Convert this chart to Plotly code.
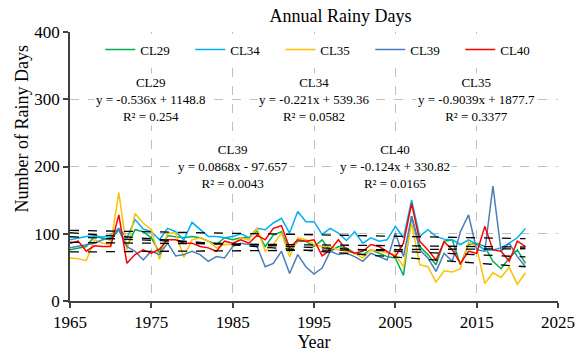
import plotly.graph_objects as go

years = list(range(1965, 2022))

cl29 = [76, 79, 81, 96, 94, 91, 106, 81, 106, 103, 94,
        72, 97, 96, 94, 96, 94, 89, 84, 94, 91, 94, 94,
        104, 81, 98, 103, 74, 89, 89, 81, 91, 74, 81, 79,
        71, 69, 76, 71, 66, 64, 38, 126, 81, 69, 54,
        89, 91, 54, 84, 86, 81, 59, 48, 64, 76, 56]
cl34 = [91, 94, 96, 97, 95, 98, 108, 94, 121, 107, 103,
        91, 108, 103, 91, 117, 106, 96, 96, 94, 96, 100, 94,
        108, 106, 116, 123, 101, 133, 118, 118, 99, 108, 101, 90,
        103, 86, 94, 89, 91, 111, 94, 150, 96, 106, 96,
        92, 91, 84, 91, 84, 76, 76, 79, 86, 94, 108]
cl35 = [64, 63, 60, 91, 86, 84, 161, 76, 130, 116, 106,
        62, 101, 101, 65, 91, 94, 89, 79, 84, 84, 94, 91,
        108, 74, 84, 101, 66, 94, 91, 84, 81, 81, 76, 74,
        71, 64, 76, 74, 71, 69, 51, 116, 54, 51, 28,
        45, 43, 48, 88, 80, 26, 42, 35, 50, 25, 42]
cl39 = [79, 81, 84, 86, 91, 94, 106, 81, 74, 61, 74,
        69, 86, 67, 69, 74, 69, 59, 66, 64, 81, 86, 84,
        81, 51, 56, 74, 41, 69, 51, 40, 49, 74, 69, 71,
        66, 59, 71, 66, 61, 101, 66, 126, 76, 64, 44,
        71, 59, 103, 128, 76, 74, 171, 74, 86, 66, 51]
cl40 = [86, 89, 74, 82, 81, 81, 128, 56, 69, 76, 71,
        77, 91, 91, 86, 86, 81, 79, 74, 89, 86, 91, 86,
        98, 91, 108, 112, 79, 91, 89, 91, 67, 76, 91, 76,
        71, 74, 84, 81, 74, 66, 86, 145, 89, 76, 61,
        88, 76, 56, 74, 71, 111, 76, 74, 59, 89, 81]

names = ["CL29", "CL34", "CL35", "CL39", "CL40"]
series = [cl29, cl34, cl35, cl39, cl40]
colors = ["#00B050", "#00B0F0", "#FFC000", "#4A7EBB", "#FF0000"]

slopes = [-0.536, -0.221, -0.9039, 0.0868, -0.124]
intercepts = [1148.8, 539.36, 1877.7, -97.657, 330.82]
eq_text = ["y = -0.536x + 1148.8", "y = -0.221x + 539.36", "y = -0.9039x + 1877.7",
           "y = 0.0868x - 97.657", "y = -0.124x + 330.82"]
r2_text = ["R² = 0.254", "R² = 0.0582", "R² = 0.3377", "R² = 0.0043", "R² = 0.0165"]
label_x = [1975, 1995, 2015, 1985, 2005]
label_y = [300, 300, 300, 200, 200]

font_family = "Liberation Serif, Times New Roman, serif"

fig = go.Figure()
for n, s, c in zip(names, series, colors):
    fig.add_trace(go.Scatter(x=years, y=s, mode="lines", name=n,
                             line=dict(color=c, width=1.5)))

for m, b in zip(slopes, intercepts):
    tx = [years[0], years[-1]]
    ty = [m * x + b for x in tx]
    fig.add_trace(go.Scatter(x=tx, y=ty, mode="lines", showlegend=False,
                             line=dict(color="black", width=1.3, dash="dash"),
                             hoverinfo="skip"))

for n, e, r, lx, ly in zip(names, eq_text, r2_text, label_x, label_y):
    fig.add_annotation(x=lx, y=ly, xref="x", yref="y",
                       text=f"{n}<br>{e}<br>{r}", showarrow=False,
                       font=dict(family=font_family, size=13, color="black"),
                       bgcolor="white", align="center")

# y-axis title (placed slightly above centre, as in the reference)
fig.add_annotation(x=-0.099, y=0.64, xref="paper", yref="paper",
                   text="Number of Rainy Days", textangle=-90, showarrow=False,
                   xanchor="center", yanchor="middle",
                   font=dict(family=font_family, size=18, color="black"))

fig.update_layout(
    width=577, height=354,
    margin=dict(l=70, r=19, t=32, b=53, autoexpand=False),
    paper_bgcolor="white", plot_bgcolor="white",
    font=dict(family=font_family, color="black"),
    title=dict(text="Annual Rainy Days", x=0.59, xanchor="center", y=0.955,
               yanchor="middle", font=dict(size=18, family=font_family)),
    legend=dict(orientation="h", x=0.062, xanchor="left", y=0.935, yanchor="middle",
                bgcolor="white", font=dict(size=13, family=font_family),
                entrywidth=45, entrywidthmode="pixels", itemwidth=30),
    showlegend=True,
)
fig.update_xaxes(range=[1965, 2025], dtick=10, tick0=1965, automargin=False,
                 showline=True, linecolor="#404040", linewidth=1.5,
                 ticks="outside", ticklen=5, tickcolor="#404040", tickwidth=1.5,
                 showgrid=True, gridcolor="#BFBFBF", griddash="dash", gridwidth=1,
                 zeroline=False, tickfont=dict(size=17),
                 title=dict(text="Year", font=dict(size=18), standoff=2))
fig.update_yaxes(range=[0, 400], dtick=100, automargin=False,
                 showline=True, linecolor="#404040", linewidth=1.5,
                 ticks="outside", ticklen=5, tickcolor="#404040", tickwidth=1.5,
                 showgrid=True, gridcolor="#BFBFBF", griddash="dash", gridwidth=1,
                 zeroline=False, tickfont=dict(size=17))

fig.write_html("out.html")
